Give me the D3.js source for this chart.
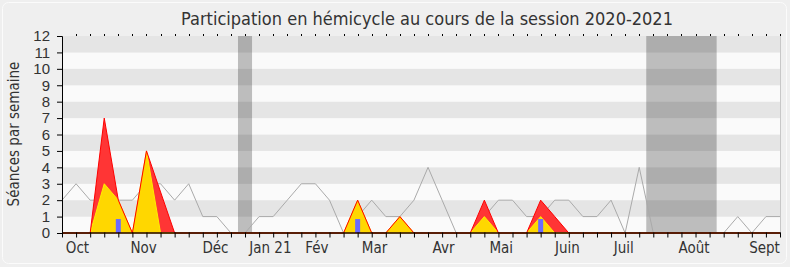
<!DOCTYPE html>
<html>
<head>
<meta charset="utf-8">
<script src="https://cdn.jsdelivr.net/npm/d3@7"></script>
<style>
  body { margin: 0; background: #efefef; }
  svg { display: block; font-family: "DejaVu Sans Condensed", "DejaVu Sans", sans-serif; font-stretch: condensed; }
</style>
</head>
<body>
<div id="chart"></div>
<script>
// semaines de la session (index 0..51)
const weeks = d3.range(52);

// séances en hémicycle par semaine (ligne grise)
const seances = [2,3,2,2,2,2,3,3,2,3,1,1,0,0,1,1,2,3,3,2,0,1,2,1,1,2,4,2,0,0,
                 1,2,2,1,1,2,2,1,1,2,0,4,0,0,0,0,0,0,1,0,1,1];

// présences (rouge)
const presences = [0,0,0,7,2,0,5,2.5,0,0,0,0,0,0,0,0,0,0,0,0,0,2,0,0,1,0,0,0,0,0,
                   2,0,0,0,2,1,0,0,0,0,0,0,0,0,0,0,0,0,0,0,0,0];

// interventions (jaune)
const interventions = [0,0,0,3,2,0,5,0,0,0,0,0,0,0,0,0,0,0,0,0,0,2,0,0,1,0,0,0,0,0,
                       1,0,0,0,1,0,0,0,0,0,0,0,0,0,0,0,0,0,0,0,0,0];

// questions (barres bleues)
const questions = [0,0,0,0,0.85,0,0,0,0,0,0,0,0,0,0,0,0,0,0,0,0,0.85,0,0,0,0,0,0,0,0,
                   0,0,0,0,0.85,0,0,0,0,0,0,0,0,0,0,0,0,0,0,0,0,0];

// vacances parlementaires (en semaines)
const vacances = [[12.5, 13.5], [41.5, 46.5]];

const monthLabels = ["Oct", "Nov", "Déc", "Jan 21", "Fév", "Mar", "Avr", "Mai", "Juin", "Juil", "Août", "Sept"];
const monthPos = [1.1, 5.8, 10.9, 14.8, 18.1, 22.2, 27.1, 31.2, 35.9, 39.9, 44.9, 49.9];

const yTicks = d3.range(13);

const width = 790, height = 267;
const mLeft = 62, mRight = 780, mTop = 36, mBottom = 233;

const svg = d3.select("#chart").append("svg")
    .attr("width", width)
    .attr("height", height);

svg.append("rect")
    .attr("x", 2.5).attr("y", 2.5)
    .attr("width", width - 6).attr("height", height - 6)
    .attr("rx", 6)
    .attr("fill", "#efefef")
    .attr("stroke", "#fbfbfb");

const x = d3.scaleLinear().domain([0, 51]).range([mLeft, mRight]);
const y = d3.scaleLinear().domain([0, 12]).range([mBottom, mTop]);

// bandes horizontales
svg.append("g")
    .selectAll("rect")
    .data(d3.range(12))
    .enter().append("rect")
    .attr("x", mLeft)
    .attr("y", d => y(d + 1))
    .attr("width", mRight - mLeft)
    .attr("height", d => y(d) - y(d + 1))
    .attr("fill", d => d % 2 ? "#e5e5e5" : "#fafafa");

svg.append("line")
    .attr("x1", mRight + 0.5).attr("x2", mRight + 0.5)
    .attr("y1", mTop).attr("y2", mBottom)
    .attr("stroke", "#c8c8c8");

// vacances
svg.append("g")
    .selectAll("rect")
    .data(vacances)
    .enter().append("rect")
    .attr("x", d => x(d[0]))
    .attr("y", mTop)
    .attr("width", d => x(d[1]) - x(d[0]))
    .attr("height", mBottom - mTop)
    .attr("fill", "#000")
    .attr("fill-opacity", 0.245);

// ligne grise
svg.append("path")
    .datum(weeks)
    .attr("fill", "none")
    .attr("stroke", "#aaa")
    .attr("stroke-width", 1)
    .attr("d", d3.line().x(d => x(d)).y(d => y(seances[d])));

const area = vals => d3.area().x(d => x(d)).y0(y(0)).y1(d => y(vals[d]));

svg.append("path")
    .datum(weeks)
    .attr("fill", "#ff3535")
    .attr("d", area(presences));

svg.append("path")
    .datum(weeks)
    .attr("fill", "#ffd700")
    .attr("stroke", "#ffee00")
    .attr("stroke-width", 1)
    .attr("d", area(interventions));

svg.append("path")
    .datum(weeks)
    .attr("fill", "none")
    .attr("stroke", "#ff0000")
    .attr("stroke-width", 1)
    .attr("d", d3.line().x(d => x(d)).y(d => y(presences[d])));

svg.append("g")
    .selectAll("rect")
    .data(weeks.filter(d => questions[d] > 0))
    .enter().append("rect")
    .attr("x", d => x(d) - 2.5)
    .attr("y", d => y(questions[d]))
    .attr("width", 5)
    .attr("height", d => y(0) - y(questions[d]))
    .attr("fill", "#6b6bff");

// petites marques en haut
svg.append("g")
    .selectAll("line")
    .data(weeks.slice(1))
    .enter().append("line")
    .attr("x1", d => Math.round(x(d)) + 0.5)
    .attr("x2", d => Math.round(x(d)) + 0.5)
    .attr("y1", mTop - 2)
    .attr("y2", mTop)
    .attr("stroke", "#000");

// axes
const yAxis = svg.append("g")
    .attr("transform", `translate(${mLeft},0)`)
    .call(d3.axisLeft(y).tickValues(yTicks).tickSize(5).tickPadding(7));
yAxis.selectAll("text").attr("font-size", 15).attr("fill", "#333").attr("font-family", null);
yAxis.select(".domain").attr("stroke", "#000");

const xAxis = svg.append("g")
    .attr("transform", `translate(0,${mBottom - 0.5})`)
    .call(d3.axisBottom(x).tickValues(weeks).tickSize(5).tickSizeOuter(0).tickFormat(""));
xAxis.select(".domain").attr("stroke", "#200").attr("stroke-width", 1.5);

svg.append("g")
    .selectAll("text")
    .data(monthLabels)
    .enter().append("text")
    .attr("x", (d, i) => x(monthPos[i]))
    .attr("y", 253)
    .attr("text-anchor", "middle")
    .attr("font-size", 15)
    .attr("fill", "#333")
    .text(d => d);

svg.append("text")
    .attr("x", 427)
    .attr("y", 25)
    .attr("text-anchor", "middle")
    .attr("font-size", 18)
    .attr("fill", "#333")
    .text("Participation en hémicycle au cours de la session 2020-2021");

svg.append("text")
    .attr("transform", `translate(19,134) rotate(-90)`)
    .attr("text-anchor", "middle")
    .attr("font-size", 15)
    .attr("fill", "#333")
    .text("Séances par semaine");
</script>
</body>
</html>
